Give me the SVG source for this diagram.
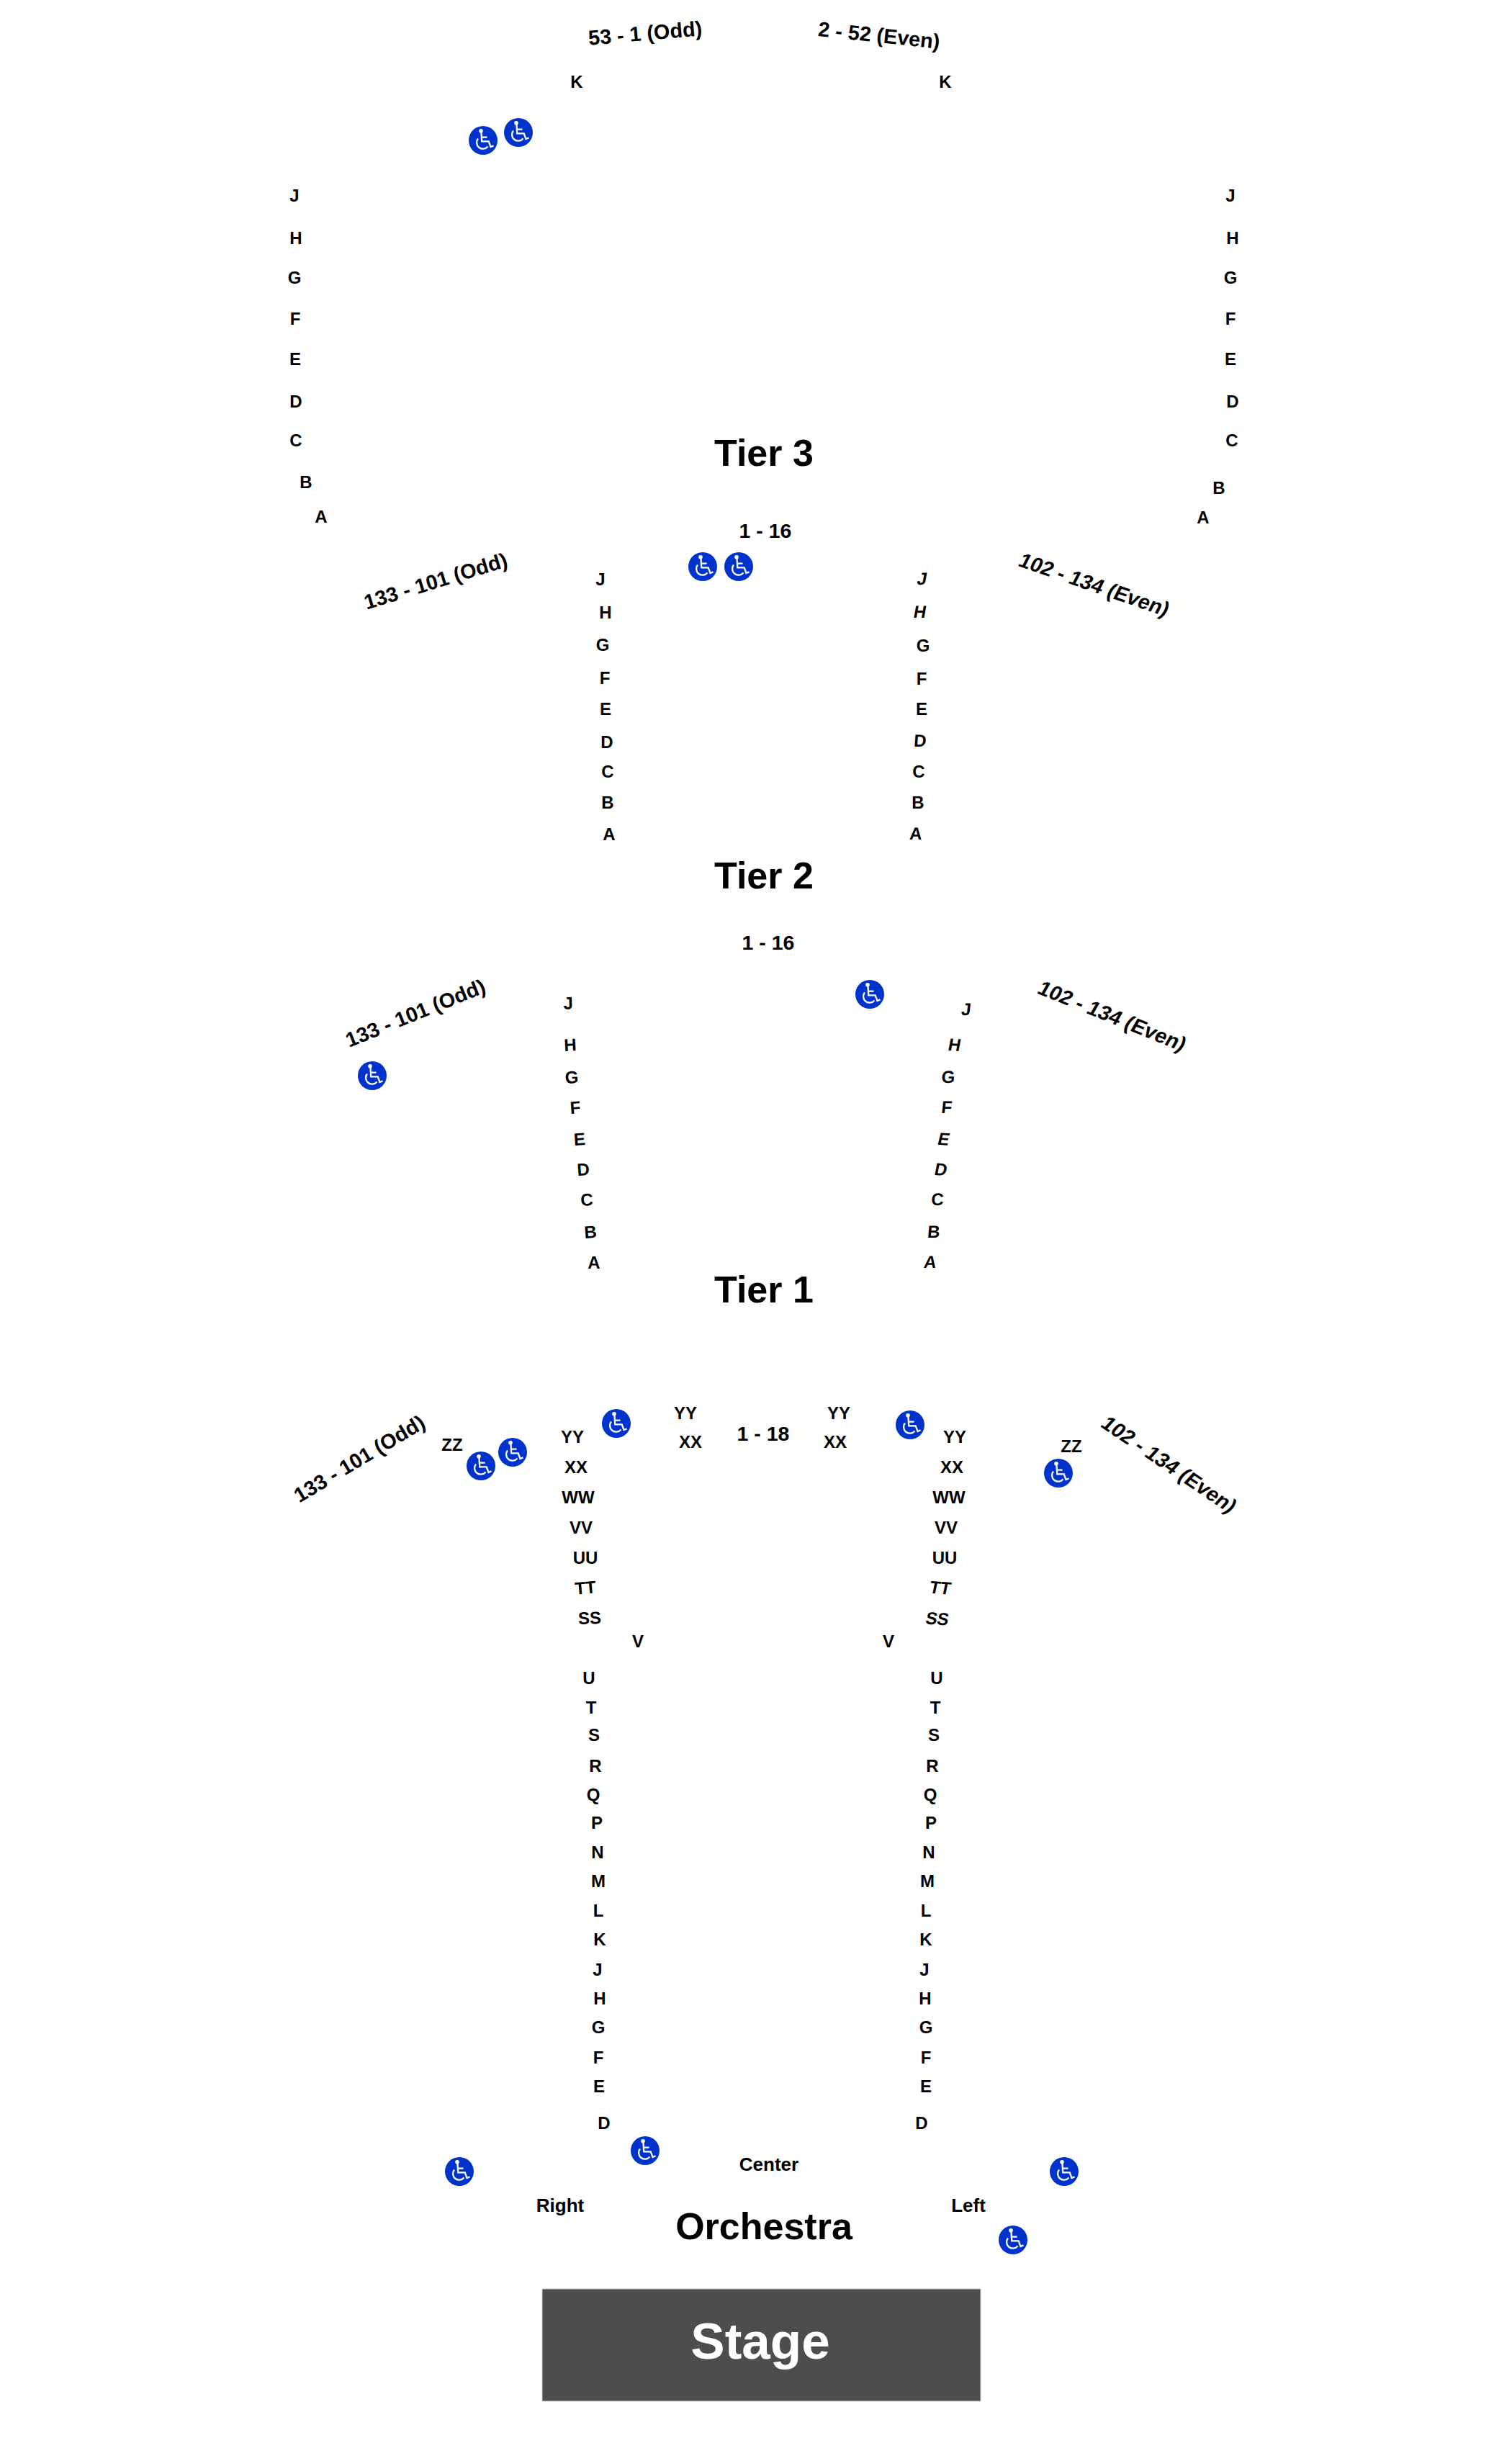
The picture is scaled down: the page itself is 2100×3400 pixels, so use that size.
<svg xmlns="http://www.w3.org/2000/svg" width="2100" height="3400" viewBox="0 0 2100 3400">
<style>
text{font-family:"Liberation Sans",Arial,sans-serif;font-weight:700;fill:#000;text-anchor:middle;dominant-baseline:central}
.l{font-size:24px}.m{font-size:28.8px}.n{font-size:28.5px}.c{font-size:26px}.t{font-size:52px}.s{font-size:71px;fill:#fff}
.w{fill:none;stroke:#fff;stroke-width:2.3}
</style>
<defs>
<g id="wc"><circle r="20" fill="#0033cc"/><circle cx="-3" cy="-13.3" r="2.8" fill="#fff"/><path class="w" d="M-2.5,-11L-1.8,1.3H7.7L10.5,9L14.5,7.4M-2.2,-4.3H5.5"/><path class="w" d="M-7,-2.5A8.5,8.5 0 1 0 6.5,8.5"/></g>
</defs>
<rect width="2100" height="3400" fill="#fff"/>
<g id="tier3">
<text class="m" transform="translate(896,46) rotate(-5)">53 - 1 (Odd)</text>
<text class="m" transform="translate(1221,49) rotate(6)">2 - 52 (Even)</text>
<text class="l" x="801" y="113">K</text><text class="l" x="1313" y="113">K</text>
<use href="#wc" x="671" y="195"/><use href="#wc" x="720" y="184"/>
<text class="l" x="409" y="271">J</text><text class="l" x="411" y="330">H</text><text class="l" x="409" y="385">G</text><text class="l" x="410" y="442">F</text><text class="l" x="410" y="498">E</text><text class="l" x="411" y="557">D</text><text class="l" x="411" y="611">C</text><text class="l" x="425" y="669">B</text><text class="l" x="446" y="717">A</text>
<text class="l" x="1709" y="271">J</text><text class="l" x="1712" y="330">H</text><text class="l" x="1709" y="385">G</text><text class="l" x="1709" y="442">F</text><text class="l" x="1709" y="498">E</text><text class="l" x="1712" y="557">D</text><text class="l" x="1711" y="611">C</text><text class="l" x="1693" y="677">B</text><text class="l" x="1671" y="718">A</text>
<text class="t" x="1061" y="629">Tier 3</text>
</g>
<g id="tier2">
<text class="n" x="1063" y="737">1 - 16</text>
<use href="#wc" x="976" y="787"/><use href="#wc" x="1026" y="787"/>
<text class="m" transform="translate(605,807) rotate(-17)">133 - 101 (Odd)</text>
<text class="m" transform="translate(1520,812) rotate(19) skewX(-8)">102 - 134 (Even)</text>
<text class="l" x="834" y="804">J</text><text class="l" x="841" y="850">H</text><text class="l" x="837" y="895">G</text><text class="l" x="840" y="941">F</text><text class="l" x="841" y="984">E</text><text class="l" x="843" y="1030">D</text><text class="l" x="844" y="1071">C</text><text class="l" x="844" y="1114">B</text><text class="l" x="846" y="1158">A</text>
<text class="l" transform="translate(1281,804) skewX(-10)">J</text><text class="l" transform="translate(1278,850) skewX(-10)">H</text><text class="l" x="1282" y="896">G</text><text class="l" x="1280" y="942">F</text><text class="l" x="1280" y="984">E</text><text class="l" transform="translate(1278,1029) skewX(-4)">D</text><text class="l" x="1276" y="1071">C</text><text class="l" x="1275" y="1114">B</text><text class="l" transform="translate(1272,1158) skewX(-4)">A</text>
<text class="t" x="1061" y="1216">Tier 2</text>
</g>
<g id="tier1">
<text class="n" x="1067" y="1309">1 - 16</text>
<use href="#wc" x="1208" y="1381"/><use href="#wc" x="517" y="1494"/>
<text class="m" transform="translate(577,1407) rotate(-22)">133 - 101 (Odd)</text>
<text class="m" transform="translate(1545,1411) rotate(22) skewX(-8)">102 - 134 (Even)</text>
<text class="l" transform="translate(789,1393) rotate(-2)">J</text><text class="l" transform="translate(792,1451) rotate(-3)">H</text><text class="l" transform="translate(794,1496) rotate(-2)">G</text><text class="l" transform="translate(799,1538) rotate(-4)">F</text><text class="l" transform="translate(805,1582) rotate(-4)">E</text><text class="l" transform="translate(810,1624) rotate(-4)">D</text><text class="l" transform="translate(815,1666) rotate(-3)">C</text><text class="l" transform="translate(820,1711) rotate(-4)">B</text><text class="l" x="825" y="1753">A</text>
<text class="l" transform="translate(1342,1402) skewX(-6)">J</text><text class="l" transform="translate(1326,1451) skewX(-8) rotate(3)">H</text><text class="l" transform="translate(1317,1496) skewX(-3)">G</text><text class="l" transform="translate(1315,1538) skewX(-6)">F</text><text class="l" transform="translate(1311,1582) skewX(-10) rotate(4)">E</text><text class="l" transform="translate(1307,1624) skewX(-8) rotate(3)">D</text><text class="l" transform="translate(1302,1666) skewX(-3)">C</text><text class="l" transform="translate(1297,1711) skewX(-5)">B</text><text class="l" transform="translate(1292,1753) skewX(-8)">A</text>
<text class="t" x="1061" y="1791">Tier 1</text>
</g>
<g id="orchestra">
<text class="m" transform="translate(499,2026) rotate(-31)">133 - 101 (Odd)</text>
<text class="m" transform="translate(1624,2034) rotate(34) skewX(-8)">102 - 134 (Even)</text>
<text class="l" x="628" y="2006">ZZ</text><text class="l" x="1488" y="2008">ZZ</text>
<use href="#wc" x="668" y="2036"/><use href="#wc" x="712" y="2017"/><use href="#wc" x="856" y="1977"/><use href="#wc" x="1264" y="1979"/><use href="#wc" x="1470" y="2046"/>
<text class="l" x="795" y="1995">YY</text><text class="l" x="800" y="2037">XX</text><text class="l" x="803" y="2079">WW</text><text class="l" x="807" y="2121">VV</text><text class="l" x="813" y="2163">UU</text><text class="l" transform="translate(813,2205) rotate(-5)">TT</text><text class="l" transform="translate(819,2247) rotate(-2)">SS</text>
<text class="l" x="952" y="1962">YY</text><text class="l" x="959" y="2002">XX</text><text class="n" x="1060" y="1991">1 - 18</text><text class="l" x="1165" y="1962">YY</text><text class="l" x="1160" y="2002">XX</text>
<text class="l" x="1326" y="1995">YY</text><text class="l" x="1322" y="2037">XX</text><text class="l" x="1318" y="2079">WW</text><text class="l" x="1314" y="2121">VV</text><text class="l" x="1312" y="2163">UU</text><text class="l" transform="translate(1306,2205) skewX(-8) rotate(4)">TT</text><text class="l" transform="translate(1302,2248) skewX(-8) rotate(3)">SS</text>
<text class="l" x="886" y="2279">V</text><text class="l" x="1234" y="2279">V</text>
<text class="l" x="818" y="2330">U</text><text class="l" x="821" y="2371">T</text><text class="l" x="825" y="2409">S</text><text class="l" x="827" y="2452">R</text><text class="l" x="824" y="2492">Q</text><text class="l" x="829" y="2531">P</text><text class="l" x="830" y="2572">N</text><text class="l" x="831" y="2612">M</text><text class="l" x="831" y="2653">L</text><text class="l" x="833" y="2693">K</text><text class="l" x="830" y="2735">J</text><text class="l" x="833" y="2775">H</text><text class="l" x="831" y="2815">G</text><text class="l" x="831" y="2857">F</text><text class="l" x="832" y="2897">E</text><text class="l" x="839" y="2948">D</text>
<text class="l" x="1301" y="2330">U</text><text class="l" x="1299" y="2371">T</text><text class="l" x="1297" y="2409">S</text><text class="l" x="1295" y="2452">R</text><text class="l" x="1292" y="2492">Q</text><text class="l" x="1293" y="2531">P</text><text class="l" x="1290" y="2572">N</text><text class="l" x="1288" y="2612">M</text><text class="l" x="1286" y="2653">L</text><text class="l" x="1286" y="2693">K</text><text class="l" x="1284" y="2735">J</text><text class="l" x="1285" y="2775">H</text><text class="l" x="1286" y="2815">G</text><text class="l" x="1286" y="2857">F</text><text class="l" x="1286" y="2897">E</text><text class="l" x="1280" y="2948">D</text>
<use href="#wc" x="896" y="2987"/><use href="#wc" x="638" y="3016"/><use href="#wc" x="1478" y="3016"/><use href="#wc" x="1407" y="3111"/>
<text class="c" x="1068" y="3006">Center</text><text class="c" x="778" y="3063">Right</text><text class="c" x="1345" y="3063">Left</text>
<text class="t" x="1061" y="3092">Orchestra</text>
</g>
<g id="stage">
<rect x="753" y="3179" width="609" height="156" fill="#4d4d4d" stroke="#ccc" stroke-width="1"/>
<text class="s" x="1056" y="3251">Stage</text>
</g>
</svg>
